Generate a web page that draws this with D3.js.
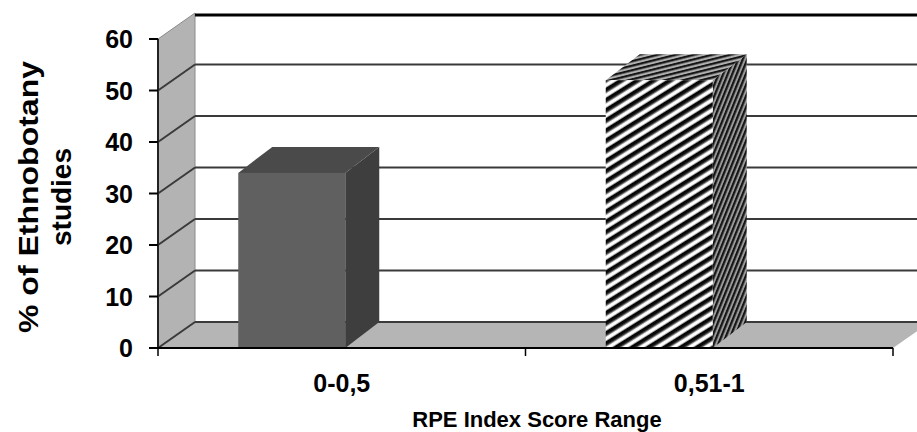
<!DOCTYPE html>
<html><head><meta charset="utf-8">
<script src="https://cdn.jsdelivr.net/npm/d3@7"></script>
<style>
html,body{margin:0;padding:0;background:#fff;}
svg{display:block;font-family:"Liberation Sans",Arial,sans-serif;font-weight:bold;}
</style></head>
<body>
<svg id="chart" width="917" height="432"></svg>
<script>
// ---- data ----
const categories = ["0-0,5", "0,51-1"];
const values = [34, 52];
const yTicks = [0, 10, 20, 30, 40, 50, 60];
const yTitleLines = ["% of Ethnobotany", "studies"];
const xTitle = "RPE Index Score Range";

// ---- layout ----
const W = 917, H = 432;
const x0 = 158, x1 = 893;     // front plane x extent
const yTop = 39, yBot = 348;  // front plane y extent
const depth = {dx: 37, dy: -26};       // wall/floor depth
const barDepth = {dx: 34, dy: -26};    // bar depth
const barW = 107, barShift = -50;

const svg = d3.select("#chart");
const x = d3.scaleBand().domain(categories).range([x0, x1]).padding(0);
const y = d3.scaleLinear().domain([0, 60]).range([yBot, yTop]);

const defs = svg.append("defs");
// front hatch (soft-edged black/white stripes)
const fp = 8.6;
const g = defs.append("linearGradient").attr("id","stripeGrad")
  .attr("x1",0).attr("y1",0).attr("x2",0).attr("y2",1);
[[0,"#000"],[0.35,"#111"],[0.5,"#888"],[0.62,"#fff"],[0.88,"#fff"],[1,"#666"]].forEach(s =>
  g.append("stop").attr("offset", s[0]).attr("stop-color", s[1]));
const pFront = defs.append("pattern").attr("id","hatchFront").attr("patternUnits","userSpaceOnUse")
  .attr("width", fp).attr("height", fp).attr("patternTransform","rotate(-32)");
pFront.append("rect").attr("width",fp).attr("height",fp).attr("fill","url(#stripeGrad)");
const pSide = defs.append("pattern").attr("id","hatchSide").attr("patternUnits","userSpaceOnUse")
  .attr("width", 4.2).attr("height", 4.2).attr("patternTransform","rotate(-68)");
pSide.append("rect").attr("width",4.2).attr("height",4.2).attr("fill","#9a9a9a");
pSide.append("rect").attr("width",4.2).attr("height",2.2).attr("fill","#151515");
const pTop = defs.append("pattern").attr("id","hatchTop").attr("patternUnits","userSpaceOnUse")
  .attr("width", 4.4).attr("height", 4.4).attr("patternTransform","rotate(-14)");
pTop.append("rect").attr("width",4.4).attr("height",4.4).attr("fill","#b0b0b0");
pTop.append("rect").attr("width",4.4).attr("height",2.2).attr("fill","#151515");

const line = d3.line();

// left wall
svg.append("path")
  .attr("d", line([[x0, y(60)], [x0 + depth.dx, y(60) + depth.dy], [x0 + depth.dx, y(0) + depth.dy], [x0, y(0)]]) + "Z")
  .attr("fill", "#b3b3b3").attr("stroke", "#8a8a8a").attr("stroke-width", 1);
// floor
svg.append("path")
  .attr("d", line([[x0, y(0)], [x1, y(0)], [x1 + depth.dx, y(0) + depth.dy], [x0 + depth.dx, y(0) + depth.dy]]) + "Z")
  .attr("fill", "#b5b5b5").attr("stroke", "none");

// gridlines (wall diagonal + back wall horizontal)
yTicks.forEach(v => {
  const top = v === 60;
  if (!top) {
    svg.append("path")
      .attr("d", line([[x0, y(v)], [x0 + depth.dx, y(v) + depth.dy]]))
      .attr("fill", "none").attr("stroke", "#3a3a3a").attr("stroke-width", 2);
  }
  svg.append("path")
    .attr("d", line([[x0 + depth.dx, y(v) + depth.dy + (top ? 2 : 0)], [W + 5, y(v) + depth.dy + (top ? 2 : 0)]]))
    .attr("fill", "none")
    .attr("stroke", top ? "#000" : "#3a3a3a")
    .attr("stroke-width", top ? 3 : 2);
});

// bars
categories.forEach((c, i) => {
  const v = values[i];
  const bx = x(c) + x.bandwidth() / 2 + barShift - barW / 2;
  const yt = y(v), yb = y(0);
  const dx = barDepth.dx, dy = barDepth.dy;
  const hatched = i === 1;
  // side
  svg.append("path")
    .attr("d", line([[bx + barW, yt], [bx + barW + dx, yt + dy], [bx + barW + dx, yb + dy], [bx + barW, yb]]) + "Z")
    .attr("fill", hatched ? "url(#hatchSide)" : "#3e3e3e");
  // top
  svg.append("path")
    .attr("d", line([[bx, yt], [bx + dx, yt + dy], [bx + barW + dx, yt + dy], [bx + barW, yt]]) + "Z")
    .attr("fill", hatched ? "url(#hatchTop)" : "#4a4a4a");
  // front
  svg.append("rect")
    .attr("x", bx).attr("y", yt).attr("width", barW).attr("height", yb - yt)
    .attr("fill", hatched ? "url(#hatchFront)" : "#606060");
});

// y axis
svg.append("line").attr("x1", x0).attr("x2", x0).attr("y1", y(60)).attr("y2", y(0))
  .attr("stroke", "#222").attr("stroke-width", 2);
yTicks.forEach(v => {
  svg.append("line").attr("x1", x0 - 9).attr("x2", x0).attr("y1", y(v)).attr("y2", y(v))
    .attr("stroke", "#000").attr("stroke-width", 2);
  svg.append("text").attr("x", 133).attr("y", y(v) + 9)
    .attr("text-anchor", "end").attr("font-size", 25).attr("fill", "#000").text(v);
});

// x axis
svg.append("line").attr("x1", x0).attr("x2", x1).attr("y1", y(0)).attr("y2", y(0))
  .attr("stroke", "#000").attr("stroke-width", 2);
const xTickPos = [x0].concat(categories.map(c => x(c) + x.bandwidth()));
xTickPos.forEach(p => {
  svg.append("line").attr("x1", p).attr("x2", p).attr("y1", y(0)).attr("y2", y(0) + 8)
    .attr("stroke", "#000").attr("stroke-width", 1.5);
});
categories.forEach(c => {
  svg.append("text").attr("x", x(c) + x.bandwidth() / 2).attr("y", 392)
    .attr("text-anchor", "middle").attr("font-size", 25).attr("fill", "#000").text(c);
});
svg.append("text").attr("x", 537).attr("y", 427).attr("text-anchor", "middle")
  .attr("font-size", 22).attr("fill", "#000").text(xTitle);

// y title
const yt = svg.append("text").attr("transform", "translate(0,197) rotate(-90)")
  .attr("text-anchor", "middle").attr("font-size", 28).attr("fill", "#000");
yt.append("tspan").attr("x", 0).attr("y", 38).attr("textLength", 272)
  .attr("lengthAdjust", "spacingAndGlyphs").text(yTitleLines[0]);
yt.append("tspan").attr("x", 0).attr("y", 71).text(yTitleLines[1]);
</script>
</body></html>
